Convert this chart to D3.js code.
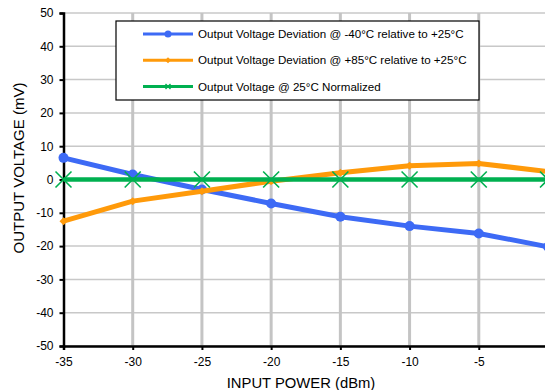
<!DOCTYPE html>
<html>
<head>
<meta charset="utf-8">
<script src="https://cdn.jsdelivr.net/npm/d3@7"></script>
<style>
  body { margin: 0; background: #fff; }
  svg { display: block; font-family: Arial, "Liberation Sans", sans-serif; }
</style>
</head>
<body>
<svg id="chart" width="545" height="390"></svg>
<script>
const inputPower = [-35, -30, -25, -20, -15, -10, -5, 0];
const devCold = [6.5, 1.5, -3, -7.2, -11.2, -14, -16.2, -20.2];
const devHot = [-12.5, -6.5, -3.5, -0.5, 2, 4.1, 4.8, 2.4];
const normalized = [0, 0, 0, 0, 0, 0, 0, 0];
const xTicks = [-35, -30, -25, -20, -15, -10, -5, 0];
const yTicks = [-50, -40, -30, -20, -10, 0, 10, 20, 30, 40, 50];

const series = [
  { name: "Output Voltage Deviation @ -40°C relative to +25°C", values: devCold, color: "#3d6af5", marker: "circle" },
  { name: "Output Voltage Deviation @ +85°C relative to +25°C", values: devHot, color: "#ff9a0a", marker: "diamond" },
  { name: "Output Voltage @ 25°C Normalized", values: normalized, color: "#00b050", marker: "x" }
];

const svg = d3.select("#chart");
const margin = { left: 63.5, top: 13, right: -3, bottom: 44 };
const width = 545, height = 390;

const x = d3.scaleLinear().domain([-35, 0]).range([margin.left, width - margin.right]);
const y = d3.scaleLinear().domain([-50, 50]).range([height - margin.bottom, margin.top]);

// grid
svg.append("g").selectAll("line").data(yTicks).enter().append("line")
    .attr("x1", x(-35)).attr("x2", x(0))
    .attr("y1", d => y(d)).attr("y2", d => y(d))
    .attr("stroke", "#c8c8c8").attr("stroke-width", 1.5);

svg.append("g").selectAll("line").data(xTicks.slice(1)).enter().append("line")
    .attr("x1", d => x(d)).attr("x2", d => x(d))
    .attr("y1", y(50)).attr("y2", y(-50))
    .attr("stroke", "#c4c4c4").attr("stroke-width", 3);

// axes (plain hyphen for negatives, like the original)
const fmt = d => String(d);
const xAxis = d3.axisBottom(x).tickValues(xTicks).tickSize(4).tickPadding(5).tickFormat(fmt);
const yAxis = d3.axisLeft(y).tickValues(yTicks).tickSize(4).tickPadding(5).tickFormat(fmt);

const xAxisG = svg.append("g").attr("transform", `translate(0,${y(-50)})`).call(xAxis);
const yAxisG = svg.append("g").attr("transform", `translate(${x(-35)},0)`).call(yAxis);

[xAxisG, yAxisG].forEach(g => {
  g.select(".domain").attr("stroke", "#000").attr("stroke-width", 2.5);
  g.selectAll(".tick line").attr("stroke", "#000").attr("stroke-width", 2);
  g.selectAll(".tick text").attr("fill", "#000").style("font-size", "12px");
});
xAxisG.selectAll(".tick text").attr("dy", "0.9em");
yAxisG.selectAll(".tick text").attr("dx", "-1px");

// lines
const line = d3.line().x((d, i) => x(inputPower[i])).y(d => y(d));

series.forEach(s => {
  const g = svg.append("g");
  g.append("path").datum(s.values)
      .attr("d", line)
      .attr("fill", "none")
      .attr("stroke", s.color)
      .attr("stroke-width", s.marker === "x" ? 4.5 : 5)
      .attr("stroke-linejoin", "round");

  const pts = g.selectAll(".pt").data(s.values).enter().append("g")
      .attr("transform", (d, i) => `translate(${x(inputPower[i])},${y(d)})`);

  if (s.marker === "circle") {
    pts.append("circle").attr("r", 5).attr("fill", s.color);
  } else if (s.marker === "diamond") {
    pts.append("path").attr("d", "M0,-4L4,0L0,4L-4,0Z").attr("fill", s.color);
  } else {
    pts.append("path").attr("d", "M-8,-8L8,8M-8,8L8,-8")
        .attr("stroke", s.color).attr("stroke-width", 1.6).attr("fill", "none");
  }
});

// legend
const legend = svg.append("g").attr("transform", "translate(116,21)");
legend.append("rect").attr("width", 363).attr("height", 79)
    .attr("fill", "#fff").attr("stroke", "#000").attr("stroke-width", 1.2);

series.forEach((s, i) => {
  const row = legend.append("g").attr("transform", `translate(0,${13 + i * 26.3})`);
  row.append("line").attr("x1", 27).attr("x2", 77).attr("y1", 0).attr("y2", 0)
      .attr("stroke", s.color).attr("stroke-width", 3);
  if (s.marker === "circle") {
    row.append("circle").attr("cx", 52).attr("r", 3.5).attr("fill", s.color);
  } else if (s.marker === "diamond") {
    row.append("path").attr("d", "M52,-3L55,0L52,3L49,0Z").attr("fill", s.color);
  } else {
    row.append("path").attr("d", "M49.5,-2.5L54.5,2.5M49.5,2.5L54.5,-2.5")
        .attr("stroke", s.color).attr("stroke-width", 1.4);
  }
  row.append("text").attr("x", 82).attr("y", 0).attr("dy", "0.35em")
      .style("font-size", "11.6px").attr("fill", "#000").text(s.name);
});

// titles
svg.append("text")
    .attr("x", 301).attr("y", 388)
    .attr("text-anchor", "middle")
    .style("font-size", "14.8px")
    .text("INPUT POWER (dBm)");

svg.append("text")
    .attr("transform", "translate(24,168) rotate(-90)")
    .attr("text-anchor", "middle")
    .style("font-size", "15px")
    .text("OUTPUT VOLTAGE (mV)");
</script>
</body>
</html>
